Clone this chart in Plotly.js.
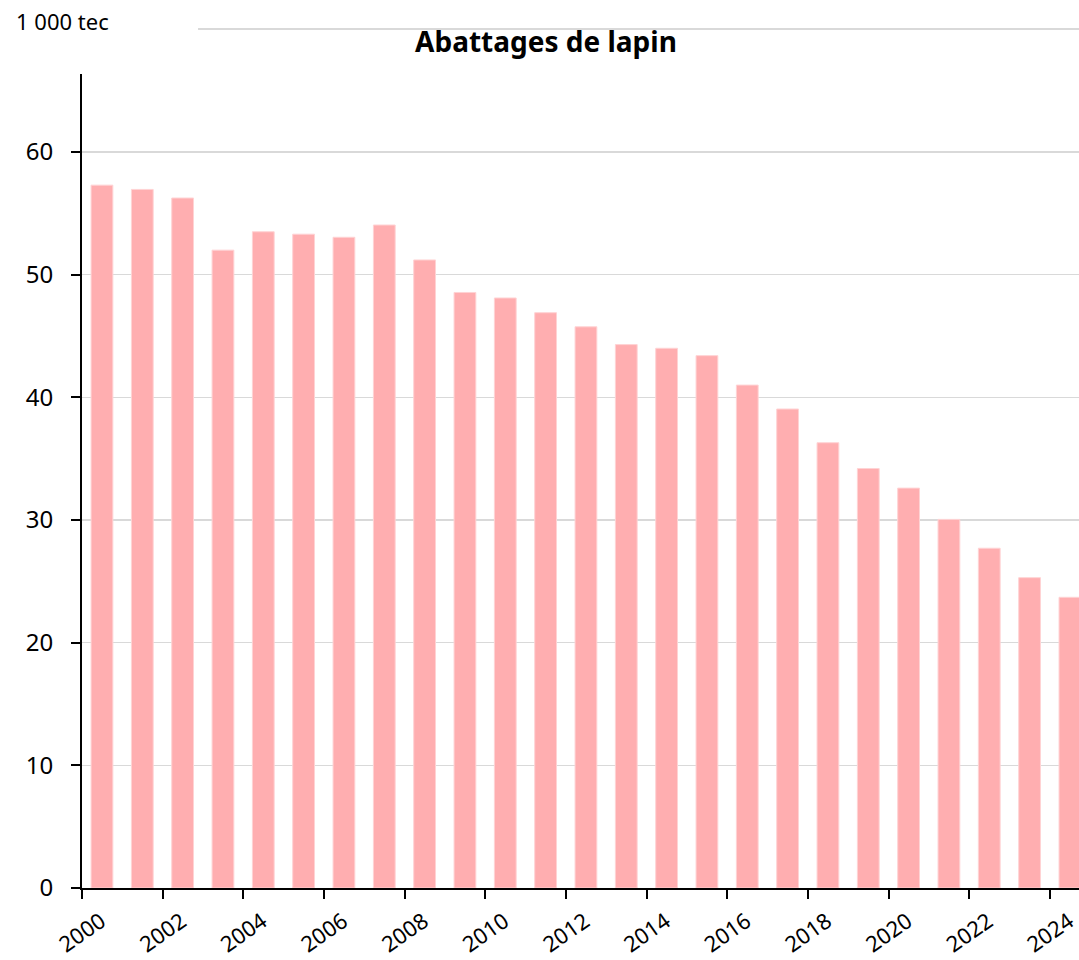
<!DOCTYPE html>
<html>
<head>
<meta charset="utf-8">
<script src="https://cdn.plot.ly/plotly-3.0.1.min.js"></script>
<style>html,body{margin:0;padding:0;background:#fff;}#chart{width:1079px;height:960px;}</style>
</head>
<body>
<div id="chart"></div>
<script>
const years = [2000,2001,2002,2003,2004,2005,2006,2007,2008,2009,2010,2011,2012,2013,2014,2015,2016,2017,2018,2019,2020,2021,2022,2023,2024];
const abattages = [57.3,56.95,56.25,52.0,53.5,53.3,53.05,54.05,51.2,48.55,48.1,46.9,45.75,44.3,44.0,43.4,41.0,39.05,36.3,34.2,32.6,30.05,27.7,25.3,23.7];
const chartTitle = "Abattages de lapin";
const unitLabel = "1 000 tec";

const FONT = "Noto Sans, Open Sans, sans-serif";

const trace = {
  type: "bar",
  x: years,
  y: abattages,
  width: 0.54,
  offset: 0.225,
  marker: {color: "#ffaeb0", line: {color: "#ffd3d4", width: 1}},
  hoverinfo: "x+y"
};

const layout = {
  width: 1079,
  height: 960,
  margin: {l: 82, r: 0, t: 74, b: 72},
  paper_bgcolor: "#ffffff",
  plot_bgcolor: "#ffffff",
  showlegend: false,
  font: {family: FONT, color: "#000000", size: 20},
  title: {
    text: "<b>" + chartTitle + "</b>",
    x: 0.506, xref: "container", xanchor: "center",
    y: 0.956, yref: "container", yanchor: "middle",
    font: {family: FONT, size: 28, color: "#000000"}
  },
  xaxis: {
    type: "linear",
    range: [2000, 2024.72],
    tick0: 2000,
    dtick: 2,
    tickangle: -35,
    ticks: "outside",
    ticklen: 9,
    tickwidth: 2,
    tickcolor: "#000000",
    showline: true,
    linecolor: "#000000",
    linewidth: 2,
    showgrid: false,
    zeroline: false,
    tickfont: {family: FONT, size: 22, color: "#000000"},
    ticklabelshift: 19,
    ticklabelstandoff: 1,
    ticklabeloverflow: "allow",
    fixedrange: true
  },
  yaxis: {
    range: [0, 66.36],
    tick0: 0,
    dtick: 10,
    ticks: "outside",
    ticklen: 9,
    tickwidth: 2,
    tickcolor: "#000000",
    showline: true,
    linecolor: "#000000",
    linewidth: 2,
    showgrid: true,
    gridcolor: "#d9d9d9",
    gridwidth: 1.3,
    zeroline: false,
    tickfont: {family: FONT, size: 24, color: "#000000"},
    ticklabelstandoff: 13,
    fixedrange: true
  },
  shapes: [{
    type: "line", xref: "paper", yref: "paper",
    x0: 0.1164, x1: 1.0, y0: 1.0553, y1: 1.0553,
    line: {color: "#d9d9d9", width: 2}
  }],
  annotations: [{
    text: unitLabel,
    xref: "paper", yref: "paper",
    x: -0.068, y: 1.0651,
    xanchor: "left", yanchor: "middle",
    showarrow: false,
    font: {family: FONT, size: 22, color: "#000000"}
  }]
};

Plotly.newPlot("chart", [trace], layout, {displayModeBar: false, staticPlot: true});
</script>
</body>
</html>
